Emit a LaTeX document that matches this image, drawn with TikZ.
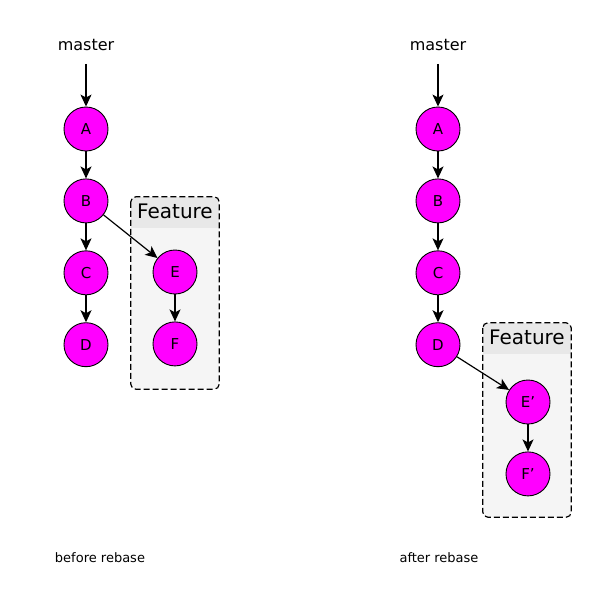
\documentclass[tikz,border=0pt]{standalone}
\usepackage{fontspec}
\setmainfont{DejaVu Sans}
\usetikzlibrary{arrows.meta,positioning,calc}
\definecolor{commitfill}{RGB}{255,0,255}

\begin{document}
\begin{tikzpicture}[
    x=1pt, y=-1pt,
    node distance=27pt,
    commit/.style={circle, draw=black, line width=0.9pt, fill=commitfill, minimum size=44pt, inner sep=0pt, font=\fontsize{15}{15}\selectfont},
    label/.style={inner sep=0pt, font=\fontsize{13}{13}\selectfont},
    featbox/.style={rectangle, minimum width=88pt, inner sep=0pt},
    boxline/.style={dash pattern=on 6pt off 3pt, line width=1.2pt, rounded corners=5pt},
    arrow/.style={-{Stealth[length=12pt, width=11pt, inset=3pt]}, line width=1.2pt},
]
\useasboundingbox (0,0) rectangle (595,600);

% Before rebase: master line
\node[label, font=\fontsize{16}{16}\selectfont] (master1) at (86,45) {master};
\node[commit] (A1) at (86,129) {A};
\node[commit, below=of A1] (B1) {B};
\node[commit, below=of B1] (C1) {C};
\node[commit, below=of C1] (D1) {D};

% Before rebase: feature branch
\node[featbox, minimum height=192pt] (feat1) at (175,293) {};
\begin{scope}
  \clip[rounded corners=5pt] (feat1.north west) rectangle (feat1.south east);
  \fill[black!4] (feat1.north west) rectangle (feat1.south east);
  \fill[black!9] (feat1.north west) rectangle ([yshift=-31pt]feat1.north east);
\end{scope}
\draw[boxline] (feat1.north west) rectangle (feat1.south east);
\node[label, font=\fontsize{20}{20}\selectfont, below=7pt of feat1.north] {Feature};
\node[commit] (E1) at (175,272) {E};
\node[commit, below=of E1] (F1) {F};

% After rebase: master line
\node[label, font=\fontsize{16}{16}\selectfont] (master2) at (438,45) {master};
\node[commit] (A2) at (438,129) {A};
\node[commit, below=of A2] (B2) {B};
\node[commit, below=of B2] (C2) {C};
\node[commit, below=of C2] (D2) {D};

% After rebase: feature branch
\node[featbox, minimum height=194pt] (feat2) at (527,420) {};
\begin{scope}
  \clip[rounded corners=5pt] (feat2.north west) rectangle (feat2.south east);
  \fill[black!4] (feat2.north west) rectangle (feat2.south east);
  \fill[black!9] (feat2.north west) rectangle ([yshift=-31pt]feat2.north east);
\end{scope}
\draw[boxline] (feat2.north west) rectangle (feat2.south east);
\node[label, font=\fontsize{20}{20}\selectfont, below=7pt of feat2.north] {Feature};
\node[commit] (E2) at (528,402) {E'};
\node[commit, below=of E2] (F2) {F'};

% Arrows
\foreach \s in {1,2} {
  \draw[arrow, shorten <=13pt] (master\s) -- (A\s);
  \draw[arrow] (A\s) -- (B\s);
}
\draw[arrow] (B1) -- (C1);
\draw[arrow] (C1) -- (D1);
\draw[arrow] (B1) -- (E1);
\draw[arrow] (E1) -- (F1);
\draw[arrow] (B2) -- (C2);
\draw[arrow] (C2) -- (D2);
\draw[arrow] (D2) -- (E2);
\draw[arrow] (E2) -- (F2);

% Captions
\node[label] (cap1) at (100,558) {before rebase};
\node[label] (cap2) at (439,558) {after rebase};

\end{tikzpicture}
\end{document}
